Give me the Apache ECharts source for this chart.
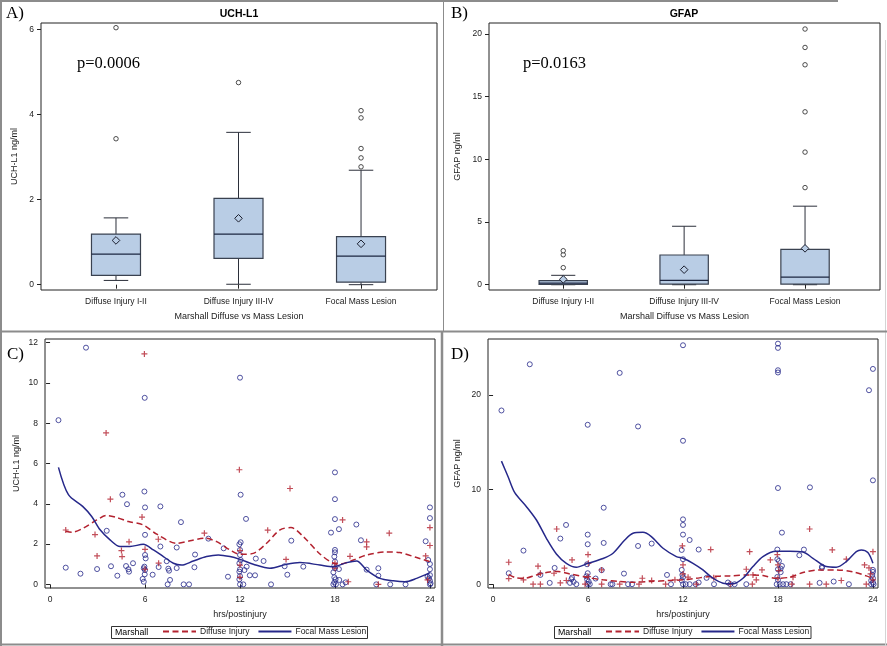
<!DOCTYPE html>
<html><head><meta charset="utf-8">
<script src="https://cdn.jsdelivr.net/npm/echarts/dist/echarts.min.js"></script>
<style>html,body{margin:0;padding:0;background:#fff}#c{width:887px;height:646px}</style>
</head><body><div id="c"></div>
<script>
// ---------- DATA ----------
const categories = ['Diffuse Injury I-II', 'Diffuse Injury III-IV', 'Focal Mass Lesion'];
// [low whisker, Q1, median, Q3, high whisker]
const uchBox = [[0.10, 0.22, 0.72, 1.19, 1.57], [0.01, 0.62, 1.19, 2.03, 3.58], [0.00, 0.06, 0.67, 1.13, 2.69]];
const uchMean = [1.04, 1.56, 0.96];
const uchOutliers = [[1, 3.43], [1, 6.04], [2, 4.75], [3, 4.09], [3, 3.92], [3, 3.20], [3, 2.98], [3, 2.77]];
const gfapBox = [[0.0, 0.03, 0.12, 0.32, 0.75], [0.0, 0.05, 0.35, 2.37, 4.66], [0.0, 0.05, 0.61, 2.82, 6.26]];
const gfapMean = [0.43, 1.20, 2.90];
const gfapOutliers = [[1, 1.36], [1, 2.39], [1, 2.71], [3, 7.74], [3, 10.57], [3, 13.78], [3, 17.53], [3, 18.91], [3, 20.38]];

const uchTicks = [0, 2, 4, 6];
const gfapBoxTicks = [0, 5, 10, 15, 20];
const hrsTicks = [0, 6, 12, 18, 24];
const uchTimeTicks = [0, 2, 4, 6, 8, 10, 12];
const gfapTimeTicks = [0, 10, 20];

const cFocalPts = [[0.53,8.15],[0.99,0.83],[1.92,0.53],[2.27,11.75],[2.97,0.76],[3.58,2.66],[3.85,0.9],[4.25,0.43],[4.57,4.45],[4.8,0.91],[4.86,3.98],[4.95,0.75],[4.99,0.63],[5.24,1.05],[5.85,0.27],[5.92,0.13],[5.96,4.61],[6.0,3.82],[5.98,9.26],[6.0,2.46],[6.0,1.46],[6.04,1.29],[5.96,0.88],[6.0,0.71],[5.92,0.8],[5.98,0.5],[6.48,0.48],[6.86,0.86],[6.97,3.87],[6.97,1.88],[7.37,1.15],[7.47,0.78],[7.52,0.68],[7.58,0.22],[7.43,0],[8.0,0.81],[8.0,1.83],[8.27,3.09],[8.44,0],[8.78,0],[9.12,0.85],[9.16,1.48],[10.0,2.27],[10.97,1.79],[11.24,0.38],
[12,10.26],[12.04,4.45],[11.96,1.99],[12.04,2.09],[12,1.71],[12,1.46],[12.04,1.21],[11.96,1.05],[12,0.75],[11.96,0.63],[12,0.41],[11.96,0.25],[12,0],[12.21,0],[12.28,0.71],[12.42,0.88],[12.38,3.25],[12.62,0.45],[12.95,0.45],[13.0,1.28],[13.49,1.16],[13.96,0],[14.82,0.9],[14.99,0.48],[15.24,2.17],[16.0,0.88],
[18,5.56],[18,4.23],[18,3.24],[17.75,2.57],[18.25,2.74],[18,1.71],[18,1.59],[17.96,1.38],[18,1.13],[17.96,0.93],[18,0.8],[18.25,0.76],[17.9,0.6],[17.96,0.35],[18.04,0.25],[17.96,0.1],[17.9,0],[18.06,0],[18.27,0.22],[18.48,0],[18.67,0.1],
[19.35,2.97],[19.64,2.19],[20.0,0.73],[20.74,0.8],[20.74,0.43],[20.61,0],[21.49,0],[22.46,0],
[24,3.82],[24,3.29],[23.73,2.14],[23.89,1.21],[24,1.01],[24,0.75],[24,0.46],[23.94,0.3],[24,0.18],[24.04,0.05],[24,0],[23.85,0.38]];
const cDiffusePts = [[0.99,2.7],[2.84,2.47],[2.97,1.41],[3.54,7.52],[3.81,4.23],[4.51,1.68],[4.55,1.38],[4.99,2.11],[5.81,3.34],[5.96,11.44],[6.0,1.74],[6.0,0.75],[6.84,2.24],[6.86,1.05],[9.75,2.54],[11.96,5.69],[12,1.68],[12,0.96],[12,0.35],[13.75,2.69],[14.91,1.24],[15.16,4.76],[18,1.05],[18,0.8],[18.48,3.2],[18.95,1.39],[18.84,0.13],[20,2.11],[20,1.86],[20.74,0],[21.43,2.54],[23.73,1.41],[24,2.82],[24,1.93],[23.85,0.22]];
const cFocalCurve = [[0.53,5.81],[1.16,4.45],[2.06,3.87],[2.63,3.37],[3.16,2.71],[3.79,2.21],[4.42,1.88],[5.05,1.88],[5.89,1.99],[6.53,1.71],[7.16,1.38],[7.79,1.05],[8.32,0.96],[9.05,1.16],[9.89,1.38],[10.63,1.46],[11.37,1.38],[12,1.24],[12.84,1.0],[13.89,0.8],[14.95,1.0],[15.79,1.08],[17.05,0.96],[17.89,0.88],[18.74,1.08],[19.37,1.16],[20,0.71],[20.84,0.3],[21.68,0.18],[22.42,0.13],[23.16,0.3],[24,0.58]];
const cDiffuseCurve = [[0.99,2.64],[1.37,2.59],[2.1,2.79],[2.95,3.2],[3.58,3.42],[4.21,3.32],[4.95,3.12],[5.89,2.95],[6.74,2.49],[8.0,2.04],[8.84,2.16],[9.79,2.29],[10.53,2.12],[11.37,1.71],[12,1.49],[12.84,1.54],[13.68,2.04],[14.53,2.71],[15.22,2.82],[16,2.37],[17.05,1.51],[17.89,1.05],[18.32,1.01],[19.16,1.21],[20,1.46],[21.26,1.61],[22.1,1.58],[23.16,1.33],[24,1.13]];

const dFocalPts = [[0.53,18.35],[0.99,1.16],[1.92,3.55],[2.32,23.23],[2.99,0.98],[3.58,0.14],[3.89,1.72],[4.25,4.82],[4.61,6.26],[4.86,0.14],[4.95,0.53],[4.99,0.7],[5.09,0.25],[5.26,0],[5.98,16.84],[5.98,5.24],[5.98,4.22],[5.94,2.11],[5.98,1.16],[5.9,0.84],[5.94,0.53],[6.04,0.28],[5.98,0],[6.11,0],[6.48,0.6],[6.86,1.48],[6.99,8.08],[6.99,4.36],[7.43,0],[7.54,0],[8.0,22.32],[8.27,1.12],[8.53,0],[8.78,0],[9.16,16.66],[9.16,4.04],[10.02,4.29],[10.99,0.98],[11.24,0],
[12,25.24],[12,15.15],[12,6.85],[12,6.26],[12,5.24],[11.92,3.62],[12,2.64],[11.92,1.51],[11.96,0.98],[12,0.74],[11.92,0.39],[12,0],[12.17,0],[12.42,0],[12.42,4.67],[12.8,0],[12.99,3.66],[12.99,0.18],[13.49,0.67],[13.96,0],[14.84,0.18],[14.99,0],[15.26,0],[16,0],
[18,25.41],[18,24.96],[18,22.6],[18,22.36],[18,10.16],[18.25,5.45],[17.96,3.66],[17.96,2.64],[18.06,2.46],[18.25,1.93],[18.17,1.65],[18,1.58],[18.17,1.27],[17.96,0.77],[18,0.46],[17.92,0],[18.11,0],[18.32,0],[18.53,0],[18.8,0],
[19.35,3.06],[19.64,3.66],[20.02,10.23],[20.63,0.14],[20.78,1.86],[20.78,1.72],[21.52,0.28],[22.48,0],
[24,22.74],[23.75,20.49],[24,10.97],[24,1.51],[24,1.3],[23.96,0.98],[24,0.63],[23.89,0.39],[24,0.18],[24.04,0],[23.89,0]];
const dDiffusePts = [[0.99,2.32],[0.99,0.6],[1.92,0.46],[2.53,0],[2.84,1.9],[2.99,1.16],[2.99,0],[3.85,1.16],[4.02,5.83],[4.51,1.69],[4.25,0.14],[4.63,0.39],[4.99,2.57],[5.81,0],[6.0,3.13],[6.02,2.21],[6.0,0.81],[6.86,1.51],[6.86,0],[8.0,0],[9.43,0.63],[9.22,0],[10.02,0.39],[10.9,0],[11.49,0.46],[11.96,4.04],[12,2.04],[12,1.09],[12.32,0.74],[12.84,0],[13.75,3.66],[13.94,0.67],[14.99,0],[16.21,3.44],[16,1.58],[16.42,0.98],[16.63,0.46],[16.38,0],[16.99,1.51],[17.52,2.57],[17.96,3.13],[18,2.04],[18.06,1.44],[18,0.63],[18.88,0],[18.95,0.74],[20,5.83],[20,0],[21.05,0],[21.43,3.62],[22,0.39],[22.32,2.64],[23.47,2.04],[23.75,1.72],[23.85,1.09],[24,3.44],[24,0.46],[23.58,0]];
const dFocalCurve = [[0.53,13.0],[0.95,11.35],[1.37,9.67],[2.11,8.19],[2.74,6.78],[3.37,4.85],[4.0,3.2],[4.63,2.21],[5.26,1.79],[6.0,2.21],[6.95,2.71],[7.58,3.27],[8.32,4.67],[8.84,5.38],[9.47,5.48],[10.0,5.03],[10.74,3.8],[11.58,2.92],[12,2.74],[12.63,2.21],[13.26,1.51],[13.89,0.63],[14.53,0.11],[15.16,0.04],[15.79,0.63],[16.42,1.86],[17.05,2.92],[17.89,3.48],[18.74,3.48],[19.58,3.41],[20.21,2.74],[21.05,1.86],[21.68,1.79],[22.32,2.39],[22.95,3.44],[23.26,3.62],[23.68,3.34],[24,2.21]];
const dDiffuseCurve = [[0.99,1.05],[1.47,0.67],[2.0,0.63],[2.74,0.98],[3.58,1.3],[4.1,1.34],[4.84,1.09],[5.89,0.74],[6.95,0.46],[8.0,0.28],[8.84,0.21],[9.89,0.28],[11.16,0.39],[12,0.46],[12.84,0.63],[13.68,0.81],[14.95,0.88],[16.21,0.98],[17.05,0.91],[17.89,0.63],[18.74,0.74],[19.58,1.23],[20.63,1.51],[21.68,1.51],[22.74,1.3],[23.58,0.88],[24,0.6]];

// ---------- STYLE ----------
const FONT = '"Liberation Sans", Arial, sans-serif';
const SERIF = '"Liberation Serif", "Times New Roman", serif';
const INK = '#222';
const BLUE = '#26288a';
const RED = '#b3222f';
const BOXFILL = '#b9cde5';

function valueAxis(gi, min, max, ticks, name, gap, fmt) {
  return {
    type: 'value', gridIndex: gi, min: min, max: max,
    name: name, nameLocation: 'middle', nameGap: gap,
    nameTextStyle: { fontFamily: FONT, fontSize: 9, color: INK },
    axisLine: { show: false },
    axisTick: { show: true, length: 4, lineStyle: { color: INK }, customValues: ticks },
    axisLabel: { show: true, margin: 7, fontFamily: FONT, fontSize: 8.5, color: INK, customValues: ticks,
      formatter: fmt || (v => String(v)) },
    splitLine: { show: false }
  };
}
const catFmt = v => categories[Math.round(v) - 1] || '';

function boxData(box, mean) {
  return box.map((b, i) => [i + 1].concat(b).concat([mean[i]]));
}
function renderBox(params, api) {
  const x = api.value(0);
  const p = k => api.coord([x, api.value(k)]);
  const low = p(1), q1 = p(2), med = p(3), q3 = p(4), high = p(5), mean = p(6);
  const hw = api.size([0.2, 0])[0];
  const cw = api.size([0.1, 0])[0];
  const cx = low[0];
  const ls = { stroke: '#2b2f3a', lineWidth: 1, fill: null };
  const r = 3.8;
  return { type: 'group', children: [
    { type: 'line', shape: { x1: cx, y1: q1[1], x2: cx, y2: low[1] }, style: ls },
    { type: 'line', shape: { x1: cx, y1: q3[1], x2: cx, y2: high[1] }, style: ls },
    { type: 'line', shape: { x1: cx - cw, y1: low[1], x2: cx + cw, y2: low[1] }, style: ls },
    { type: 'line', shape: { x1: cx - cw, y1: high[1], x2: cx + cw, y2: high[1] }, style: ls },
    { type: 'rect', shape: { x: cx - hw, y: q3[1], width: 2 * hw, height: q1[1] - q3[1] },
      style: { fill: BOXFILL, stroke: '#3a4250', lineWidth: 1.2 } },
    { type: 'line', shape: { x1: cx - hw, y1: med[1], x2: cx + hw, y2: med[1] }, style: { stroke: '#1c2640', lineWidth: 1.2 } },
    { type: 'polygon', shape: { points: [[cx, mean[1] - r], [cx + r, mean[1]], [cx, mean[1] + r], [cx - r, mean[1]]] },
      style: { fill: BOXFILL, stroke: '#1c2030', lineWidth: 1 } }
  ]};
}
const outlierStyle = { color: '#fff', borderColor: '#222', borderWidth: 1 };
const PLUS = 'path://M2,0h1v2h2v1h-2v2h-1v-2h-2v-1h2z';

const grids = [
  { left: 41, top: 23, width: 396, height: 267 },
  { left: 489, top: 23, width: 391, height: 267 },
  { left: 45, top: 339, width: 390, height: 249 },
  { left: 488, top: 339, width: 390, height: 249 }
].map(g => Object.assign({ show: true, borderColor: '#222', borderWidth: 1, backgroundColor: '#fff', containLabel: false }, g));

function scatterPts(name, xi, data, kind) {
  return kind === 'circle'
    ? { type: 'scatter', name: name, xAxisIndex: xi, yAxisIndex: xi, data: data, symbol: 'circle', symbolSize: 5,
        itemStyle: { color: 'rgba(255,255,255,0)', borderColor: BLUE, borderWidth: 1 }, z: 3, silent: true }
    : { type: 'scatter', name: name, xAxisIndex: xi, yAxisIndex: xi, data: data, symbol: PLUS, symbolSize: 6,
        itemStyle: { color: RED }, z: 3, silent: true };
}
function curve(name, xi, data, color, dashed) {
  return { type: 'line', name: name, xAxisIndex: xi, yAxisIndex: xi, data: data, smooth: 0.3,
    symbol: 'none', lineStyle: { color: color, width: 1.5, type: dashed ? [6, 3.5] : 'solid' },
    itemStyle: { color: color }, z: 4, silent: true };
}
function legend(left) {
  return { left: left, top: 627, orient: 'horizontal', itemWidth: 33, itemHeight: 11, itemGap: 8,
    padding: 0, selectedMode: false,
    itemStyle: { opacity: 0, borderWidth: 0 },
    lineStyle: { opacity: 1 },
    textStyle: { fontFamily: FONT, fontSize: 8.5, color: INK, padding: [0, 0, 0, -1] },
    data: ['Diffuse Injury', 'Focal Mass Lesion'] };
}
function txt(x, y, s, size, font, weight, align) {
  return { type: 'text', x: x, y: y, style: { text: s, fontSize: size, fontFamily: font, fontWeight: weight || 'normal',
    fill: '#000', textAlign: align || 'left', textVerticalAlign: 'middle' }, z: 10 };
}
function ln(x1, y1, x2, y2, w, c) {
  return { type: 'line', shape: { x1: x1, y1: y1, x2: x2, y2: y2 }, style: { stroke: c || '#8c8c8c', lineWidth: w || 1 }, z: 10 };
}

const option = {
  animation: false,
  backgroundColor: '#fff',
  grid: grids,
  xAxis: [
    valueAxis(0, 0.388, 3.62, [1, 2, 3], 'Marshall Diffuse vs Mass Lesion', 22, catFmt),
    valueAxis(1, 0.386, 3.62, [1, 2, 3], 'Marshall Diffuse vs Mass Lesion', 22, catFmt),
    valueAxis(2, -0.32, 24.32, hrsTicks, 'hrs/postinjury', 22),
    valueAxis(3, -0.32, 24.32, hrsTicks, 'hrs/postinjury', 22)
  ],
  yAxis: [
    valueAxis(0, -0.125, 6.15, uchTicks, 'UCH-L1 ng/ml', 22),
    valueAxis(1, -0.42, 20.86, gfapBoxTicks, 'GFAP ng/ml', 27),
    valueAxis(2, -0.18, 12.18, uchTimeTicks, 'UCH-L1 ng/ml', 24),
    valueAxis(3, -0.4, 25.9, gfapTimeTicks, 'GFAP ng/ml', 26)
  ],
  legend: [legend(162), legend(605)],
  series: [
    { type: 'custom', xAxisIndex: 0, yAxisIndex: 0, data: boxData(uchBox, uchMean), renderItem: renderBox, z: 2, silent: true },
    { type: 'scatter', xAxisIndex: 0, yAxisIndex: 0, data: uchOutliers, symbol: 'circle', symbolSize: 4.5, itemStyle: outlierStyle, z: 3, silent: true },
    { type: 'custom', xAxisIndex: 1, yAxisIndex: 1, data: boxData(gfapBox, gfapMean), renderItem: renderBox, z: 2, silent: true },
    { type: 'scatter', xAxisIndex: 1, yAxisIndex: 1, data: gfapOutliers, symbol: 'circle', symbolSize: 4.5, itemStyle: outlierStyle, z: 3, silent: true },
    scatterPts('Focal pts C', 2, cFocalPts, 'circle'),
    scatterPts('Diffuse pts C', 2, cDiffusePts, 'plus'),
    curve('Diffuse Injury', 2, cDiffuseCurve, RED, true),
    curve('Focal Mass Lesion', 2, cFocalCurve, BLUE, false),
    scatterPts('Focal pts D', 3, dFocalPts, 'circle'),
    scatterPts('Diffuse pts D', 3, dDiffusePts, 'plus'),
    curve('Diffuse Injury', 3, dDiffuseCurve, RED, true),
    curve('Focal Mass Lesion', 3, dFocalCurve, BLUE, false)
  ],
  graphic: [
    // panel frames
    ln(0, 1, 838, 1, 2), ln(1, 0, 1, 646, 2), ln(0, 644.5, 887, 644.5, 2), ln(885.5, 40, 885.5, 646, 1, '#d4d4d4'),
    ln(443.5, 0, 443.5, 331, 1), ln(0, 331.5, 887, 331.5, 2), ln(442, 332, 442, 646, 2.5),
    // panel labels
    txt(6, 14, 'A)', 17, SERIF), txt(451, 14, 'B)', 17, SERIF),
    txt(7, 355, 'C)', 17, SERIF), txt(451, 355, 'D)', 17, SERIF),
    // titles
    txt(239, 14, 'UCH-L1', 10.5, FONT, 'bold', 'center'), txt(684, 14, 'GFAP', 10.5, FONT, 'bold', 'center'),
    // p values
    txt(77, 64, 'p=0.0006', 16.5, SERIF), txt(523, 64, 'p=0.0163', 16.5, SERIF),
    // legend boxes
    { type: 'rect', shape: { x: 111.5, y: 626.5, width: 256, height: 12 }, style: { fill: null, stroke: '#333', lineWidth: 1 }, z: 10 },
    txt(115, 632.5, 'Marshall', 8.8, FONT),
    { type: 'rect', shape: { x: 554.5, y: 626.5, width: 256.5, height: 12 }, style: { fill: null, stroke: '#333', lineWidth: 1 }, z: 10 },
    txt(558, 632.5, 'Marshall', 8.8, FONT)
  ]
};
const chart = echarts.init(document.getElementById('c'), null, { renderer: 'canvas' });
chart.setOption(option);
</script></body></html>
